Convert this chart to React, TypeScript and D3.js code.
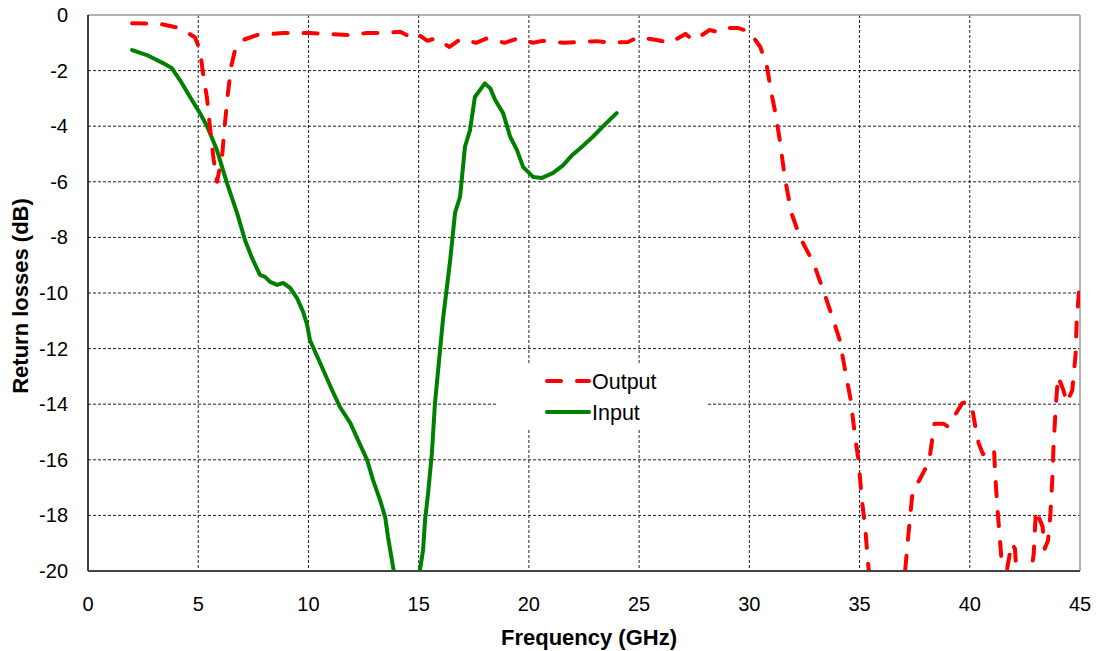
import React from "react";
import * as d3 from "d3";

const xTicks = [0, 5, 10, 15, 20, 25, 30, 35, 40, 45];
const yTicks = [0, -2, -4, -6, -8, -10, -12, -14, -16, -18, -20];

const outputFreq = [2.0, 3.27, 4.17, 4.85, 5.08, 5.2, 5.4, 5.54, 5.7, 5.85, 6.08, 6.2, 6.35, 6.49, 6.67, 7.03, 7.67, 8.85, 10.07, 11.9, 12.65, 13.25, 14.16, 14.6, 14.9, 15.4, 15.75, 16.4, 16.9, 17.6, 18.1, 18.9, 19.5, 20.2, 20.6, 21.6, 22.3, 23.1, 23.7, 24.5, 24.95, 25.8, 26.4, 27.1, 27.45, 27.7, 28.2, 28.5, 28.8, 29.5, 30.0, 30.5, 30.8, 31.0, 31.2, 31.4, 31.6, 31.9, 32.3, 32.9, 33.4, 33.9, 34.1, 34.35, 34.6, 34.8, 34.95, 35.1, 35.25, 35.4, 35.6, 36.3, 36.9, 37.1, 37.25, 37.4, 38.0, 38.2, 38.4, 38.8, 39.0, 39.25, 39.65, 39.9, 40.1, 40.25, 40.4, 40.6, 40.9, 41.1, 41.15, 41.25, 41.4, 41.5, 41.6, 41.7, 41.9, 42.05, 42.15, 42.5, 42.9, 43.0, 43.1, 43.3, 43.4, 43.55, 43.65, 43.75, 43.8, 43.9, 44.0, 44.25, 44.4, 44.65, 44.8, 44.85, 45.0];
const outputDb = [-0.3, -0.32, -0.47, -0.8, -1.26, -2.0, -3.0, -4.1, -5.2, -6.0, -5.1, -4.0, -2.8, -1.87, -1.26, -0.9, -0.72, -0.65, -0.65, -0.72, -0.65, -0.65, -0.6, -0.78, -0.65, -0.93, -0.84, -1.15, -0.87, -1.0, -0.84, -1.0, -0.84, -1.0, -0.93, -1.0, -0.97, -0.94, -1.0, -0.97, -0.8, -0.9, -1.0, -0.68, -0.9, -0.8, -0.54, -0.6, -0.47, -0.47, -0.6, -1.15, -1.87, -2.8, -3.6, -4.6, -5.8, -7.1, -8.0, -8.9, -10.0, -11.2, -11.7, -12.8, -13.85, -15.2, -16.0, -17.4, -18.4, -19.85, -21.0, -23.0, -21.5, -19.7, -18.4, -17.2, -16.3, -15.8, -14.7, -14.7, -14.8, -14.5, -13.97, -13.9, -14.1, -14.8, -15.4, -15.8, -15.6, -15.6, -16.5, -17.7, -19.2, -20.3, -20.5, -19.9, -19.0, -19.2, -20.5, -21.5, -19.4, -17.8, -18.0, -18.4, -19.2, -18.9, -18.05, -16.6, -15.5, -14.1, -13.0, -13.5, -13.95, -13.5, -12.2, -11.0, -9.5];

const inputFreq = [2.0, 2.67, 3.4, 3.8, 4.17, 4.63, 5.08, 5.4, 5.85, 6.3, 6.76, 7.12, 7.44, 7.8, 8.03, 8.26, 8.58, 8.85, 9.17, 9.48, 9.76, 9.94, 10.07, 10.53, 11.07, 11.43, 11.9, 12.25, 12.66, 12.93, 13.25, 13.48, 13.61, 13.84, 14.0, 14.5, 15.0, 15.06, 15.2, 15.29, 15.43, 15.6, 15.74, 15.97, 16.1, 16.43, 16.65, 16.88, 17.1, 17.33, 17.55, 17.78, 18.0, 18.25, 18.47, 18.83, 19.15, 19.46, 19.74, 20.2, 20.6, 21.1, 21.56, 21.96, 22.32, 22.9, 23.5, 23.98];
const inputDb = [-1.26, -1.44, -1.73, -1.91, -2.34, -2.95, -3.53, -4.0, -4.86, -6.04, -7.12, -8.09, -8.74, -9.35, -9.42, -9.6, -9.71, -9.64, -9.82, -10.18, -10.68, -11.15, -11.7, -12.52, -13.49, -14.1, -14.68, -15.29, -16.0, -16.73, -17.45, -18.06, -18.78, -19.86, -20.6, -22.0, -20.6, -19.96, -19.24, -18.17, -17.19, -15.76, -13.96, -12.05, -10.97, -8.81, -7.12, -6.53, -4.74, -4.14, -2.95, -2.7, -2.46, -2.64, -3.06, -3.53, -4.38, -4.86, -5.47, -5.83, -5.86, -5.68, -5.4, -5.04, -4.8, -4.38, -3.9, -3.53];

const W = 1096;
const H = 651;
const left = 88, right = 1080, top = 15, bottom = 571;

export default function App() {
  const x = d3.scaleLinear().domain([0, 45]).range([left, right]);
  const y = d3.scaleLinear().domain([0, -20]).range([top, bottom]);
  const line = d3.line<[number, number]>().x(d => x(d[0])).y(d => y(d[1]));
  const outPts = outputFreq.map((f, i) => [f, outputDb[i]] as [number, number]);
  const inPts = inputFreq.map((f, i) => [f, inputDb[i]] as [number, number]);
  const font = "'Liberation Sans', Arial, sans-serif";
  return (
    <svg width={W} height={H} style={{ position: "absolute", left: 0, top: 0, background: "#fff" }} fontFamily={font}>
      <defs>
        <clipPath id="plot"><rect x={left} y={top} width={right - left} height={bottom - top} /></clipPath>
      </defs>
      {yTicks.filter(t => t !== 0 && t !== -20).map(t => (
        <line key={"gy" + t} x1={left} x2={right} y1={y(t)} y2={y(t)} stroke="#222" strokeWidth={1} strokeDasharray="3,2" />
      ))}
      {xTicks.filter(t => t !== 0 && t !== 45).map(t => (
        <line key={"gx" + t} x1={x(t)} x2={x(t)} y1={top} y2={bottom} stroke="#222" strokeWidth={1} strokeDasharray="3,2" />
      ))}
      <line x1={left} x2={right} y1={top} y2={top} stroke="#999" strokeWidth={1.5} />
      <line x1={right} x2={right} y1={top} y2={bottom} stroke="#999" strokeWidth={1.5} />
      <rect x={497} y={363} width={209} height={65} fill="#fff" />
      <g clipPath="url(#plot)">
        <path d={line(inPts) || ""} fill="none" stroke="#008000" strokeWidth={4} strokeLinejoin="round" strokeLinecap="round" />
        <path d={line(outPts) || ""} fill="none" stroke="#ff0000" strokeWidth={4} strokeDasharray="14,16" strokeLinejoin="round" strokeLinecap="round" />
      </g>
      <line x1={left} x2={left} y1={top} y2={bottom} stroke="#000" strokeWidth={1.5} />
      <line x1={left} x2={right} y1={bottom} y2={bottom} stroke="#444" strokeWidth={2} />
      {yTicks.map(t => (
        <text key={"ty" + t} x={68} y={y(t)} dy="0.35em" textAnchor="end" fontSize={20} fill="#000">{t}</text>
      ))}
      {xTicks.map(t => (
        <text key={"tx" + t} x={x(t)} y={604} dy="0.35em" textAnchor="middle" fontSize={20} fill="#000">{t}</text>
      ))}
      <text x={589} y={645} textAnchor="middle" fontSize={22} fontWeight="bold" fill="#000">Frequency (GHz)</text>
      <text transform={`translate(28, ${(top + bottom) / 2 + 3}) rotate(-90)`} textAnchor="middle" fontSize={22} fontWeight="bold" fill="#000">Return losses (dB)</text>
      <line x1={547} x2={589} y1={381} y2={381} stroke="#ff0000" strokeWidth={4} strokeDasharray="14,16" strokeLinecap="round" />
      <text x={592} y={381} dy="0.35em" fontSize={21.5} fill="#000">Output</text>
      <line x1={547} x2={589} y1={412} y2={412} stroke="#008000" strokeWidth={4} strokeLinecap="round" />
      <text x={592} y={412} dy="0.35em" fontSize={21.5} fill="#000">Input</text>
    </svg>
  );
}
